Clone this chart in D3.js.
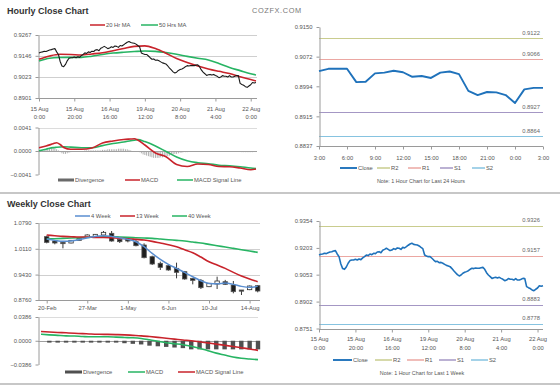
<!DOCTYPE html>
<html>
<head>
<meta charset="utf-8">
<script src="https://cdn.jsdelivr.net/npm/d3@7"></script>
<style>
body{margin:0;background:#fff}
svg{display:block;font-family:"Liberation Sans",Arial,sans-serif}
</style>
</head>
<body>
<svg id="c" width="560" height="386"></svg>
<script>
// ---- hourly data: 15 Aug 0:00 -> 22 Aug 3:00, 124 trading hours ----
const hourClose = [
 0.9163,0.9167,0.9169,0.9173,0.9171,0.9176,0.9180,0.9182,0.9186,0.9188,
 0.9169,0.9154,0.9113,0.9087,0.9083,0.9096,0.9117,0.9132,0.9135,0.9135,
 0.9139,0.9135,0.9141,0.9137,0.9147,0.9154,0.9163,0.9160,0.9169,0.9165,
 0.9173,0.9171,0.9180,0.9182,0.9176,0.9190,0.9195,0.9201,0.9195,0.9188,
 0.9191,0.9199,0.9195,0.9203,0.9201,0.9195,0.9206,0.9203,0.9210,0.9218,
 0.9225,0.9229,0.9223,0.9221,0.9219,0.9214,0.9206,0.9199,0.9163,0.9158,
 0.9154,0.9154,0.9145,0.9135,0.9126,0.9128,0.9120,0.9122,0.9117,0.9111,
 0.9105,0.9102,0.9098,0.9087,0.9075,0.9064,0.9053,0.9046,0.9051,0.9061,
 0.9066,0.9070,0.9075,0.9083,0.9089,0.9087,0.9090,0.9089,0.9089,0.9092,
 0.9094,0.9083,0.9064,0.9051,0.9042,0.9032,0.9036,0.9038,0.9034,0.9038,
 0.9032,0.9027,0.9019,0.9023,0.9031,0.9027,0.9027,0.9023,0.9031,0.9023,
 0.9023,0.9027,0.9032,0.9031,0.8986,0.8980,0.8975,0.8967,0.8963,0.8971,
 0.8978,0.8991,0.8988,0.8991];

const maHours = [0,6,12,18,24,30,36,42,48,54,60,66,72,78,84,90,96,102,108,114,120,123];
const ma20 = [0.9126,0.9145,0.9155,0.9154,0.9151,0.9157,0.9164,0.9176,0.9189,0.9201,0.9204,
              0.9188,0.9161,0.9130,0.9107,0.9087,0.9070,0.9056,0.9043,0.9025,0.9008,0.9000];
const ma50 = [0.9116,0.9132,0.9136,0.9137,0.9137,0.9144,0.9154,0.9162,0.9167,0.9171,0.9174,
              0.9172,0.9165,0.9155,0.9143,0.9132,0.9122,0.9101,0.9078,0.9060,0.9042,0.9035];

const macdHours = [0,4,8,10,12,14,18,24,30,36,42,48,52,54,56,60,66,72,78,84,90,96,102,108,114,120,123];
const macdH = [0.00058,0.00087,0.00126,0.00145,0.00113,0.00061,0.00030,0.00030,0.00052,0.00140,
               0.00175,0.00201,0.00209,0.00213,0.00192,0.00105,-0.00035,-0.00099,-0.00236,-0.00270,
               -0.00227,-0.00236,-0.00270,-0.00274,-0.00297,-0.00326,-0.00314];
const signalH = [0.00005,0.00031,0.00059,0.00065,0.00070,0.00073,0.00068,0.00058,0.00058,0.00094,
                 0.00131,0.00157,0.00178,0.00188,0.00199,0.00164,0.00087,-0.00009,-0.00105,-0.00171,
                 -0.00204,-0.00222,-0.00248,-0.00257,-0.00274,-0.00297,-0.00305];
const divH = [
 0.00005,0.00005,0.0001,0.0001,0.0002,0.0003,0.0004,0.0005,0.0005,0.0004,
 0.0003,0.0001,-0.0002,-0.0004,-0.0005,-0.0005,-0.0004,-0.0003,-0.0002,-0.0001,
 -0.0001,0,0,0,0,0,0.0001,0.0001,0.0001,0.0001,
 0.0001,0.0001,0.0001,0.0001,0.0001,0.0001,0.0002,0.0002,0.0002,0.0003,
 0.0003,0.0003,0.0003,0.0003,0.0003,0.0004,0.0004,0.0004,0.0004,0.0003,
 0.0003,0.0002,0.0001,0,0,-0.0001,-0.0001,-0.0002,-0.0004,-0.0006,
 -0.0007,-0.0008,-0.0009,-0.0010,-0.0011,-0.0012,-0.0012,-0.0012,-0.0012,-0.0011,
 -0.0011,-0.0010,-0.0010,-0.0009,-0.0008,-0.0007,-0.0006,-0.0005,-0.0005,-0.0004,
 -0.0003,-0.0003,-0.0002,-0.0002,-0.0002,-0.0001,-0.0001,-0.0001,-0.0001,0,
 0,0,-0.0001,-0.0001,-0.0001,-0.0001,-0.0001,-0.0001,-0.0001,-0.0001,
 -0.0001,-0.0001,-0.0001,-0.0001,-0.0001,-0.0001,-0.0001,-0.0001,-0.0001,-0.0001,
 -0.0001,-0.0001,-0.0001,-0.0001,-0.0001,-0.0002,-0.0002,-0.0002,-0.0002,-0.0002,
 -0.0002,-0.0002,-0.0001,-0.0001];

const hourTickIdx = [0,20,40,60,80,100,120];
const hourTickDay = ["15 Aug","15 Aug","16 Aug","19 Aug","20 Aug","21 Aug","22 Aug"];
const hourTickTime = ["0:00","20:00","16:00","12:00","8:00","4:00","0:00"];

// ---- last 24 hours (3:00 -> 3:00) ----
const dayClose = [0.9034,0.9040,0.9040,0.9040,0.9005,0.9006,0.9028,0.9030,0.9035,0.9031,
                  0.9019,0.9021,0.9016,0.9030,0.9033,0.9026,0.8982,0.8971,0.8979,0.8978,
                  0.8971,0.8950,0.8986,0.8990,0.8990];
const dayTicks = [0,3,6,9,12,15,18,21,24];
const dayTickLabels = ["3:00","6:00","9:00","12:00","15:00","18:00","21:00","0:00","3:00"];
const levelNames = ["R2","R1","S1","S2"];
const dayLevels = [0.9122,0.9066,0.8927,0.8864];
const weekLevels = [0.9326,0.9157,0.8883,0.8778];

// ---- weekly candles 20-Feb -> 21-Aug ----
const wkOpen  = [1.0430,1.0315,1.0280,1.0263,1.0333,1.0403,1.0430,1.0474,1.0518,1.0359,1.0368,1.0298,1.0210,0.9902,
                 0.9727,0.9665,0.9595,0.9507,0.9331,0.9278,0.9111,0.9182,0.9243,0.9155,0.9024,0.9032,0.9138];
const wkHigh  = [1.0456,1.0342,1.0298,1.0342,1.0395,1.0491,1.0500,1.0579,1.0579,1.0403,1.0403,1.0342,1.0254,0.9929,
                 0.9771,0.9709,0.9744,0.9525,0.9331,0.9314,0.9210,0.9375,0.9290,0.9261,0.9024,0.9140,0.9155];
const wkLow   = [1.0254,1.0228,1.0122,1.0254,1.0324,1.0395,1.0420,1.0456,1.0298,1.0263,1.0280,1.0175,0.9858,0.9683,
                 0.9551,0.9533,0.9331,0.9296,0.9173,0.9050,0.9100,0.9050,0.9155,0.8936,0.8892,0.9020,0.8962];
const wkClose = [1.0280,1.0263,1.0245,1.0333,1.0386,1.0474,1.0491,1.0544,1.0315,1.0298,1.0315,1.0192,0.9876,0.9709,
                 0.9621,0.9551,0.9489,0.9314,0.9278,0.9085,0.9199,0.9261,0.9173,0.8980,0.8997,0.9129,0.8997];
const wk4  = [1.0367,1.0332,1.0306,1.0314,1.0349,1.0402,1.0437,1.0455,1.0437,1.0402,1.0358,1.0297,1.0165,0.9989,
              0.9831,0.9699,0.9594,0.9488,0.9374,0.9268,0.9198,0.9189,0.9207,0.9172,0.9119,0.9093,0.9119];
const wk13 = [1.0473,1.0455,1.0437,1.0429,1.0420,1.0420,1.0411,1.0411,1.0402,1.0385,1.0376,1.0358,1.0341,1.0306,
              1.0262,1.0218,1.0165,1.0086,1.0007,0.9892,0.9769,0.9681,0.9594,0.9488,0.9391,0.9312,0.9242];
const wk40 = [1.0367,1.0376,1.0385,1.0393,1.0402,1.0411,1.0420,1.0429,1.0429,1.0420,1.0411,1.0402,1.0393,1.0385,
              1.0367,1.0349,1.0332,1.0314,1.0288,1.0262,1.0226,1.0191,1.0156,1.0121,1.0086,1.0051,1.0016];
const wkMacd = [0.0105,0.0096,0.0088,0.0080,0.0076,0.0069,0.0064,0.0064,0.0064,0.0059,0.0053,0.0048,0.0037,0.0016,
                -0.0008,-0.0032,-0.0048,-0.0064,-0.0088,-0.0121,-0.0161,-0.0201,-0.0233,-0.0265,-0.0285,-0.0297,-0.0306];
const wkSignal = [0.0150,0.0142,0.0135,0.0129,0.0122,0.0116,0.0109,0.0105,0.0103,0.0100,0.0096,0.0088,0.0080,0.0068,
                  0.0055,0.0040,0.0027,0.0013,0.0000,-0.0016,-0.0035,-0.0055,-0.0074,-0.0093,-0.0113,-0.0133,-0.0156];
const wkDiv = [0,-0.003,-0.003,-0.003,-0.003,-0.003,-0.003,-0.003,-0.003,-0.003,-0.004,-0.005,-0.006,-0.008,
               -0.009,-0.010,-0.011,-0.012,-0.014,-0.014,-0.014,-0.014,-0.014,-0.014,-0.014,-0.014,-0.014];
const wkTickIdx = [0,5,10,15,20,25];
const wkTickLabels = ["20-Feb","27-Mar","1-May","6-Jun","10-Jul","14-Aug"];

const RED = '#c8232b', GREEN = '#27b463', BLUE4 = '#5a8ed0', CLOSE = '#1f72bb';
const levelColors = ['#c9cc8e','#eba7a2','#a497c4','#86c3e0'];
const FS = 5.8;

const svg = d3.select('#c');
svg.append('rect').attr('width',560).attr('height',386).attr('fill','#fff');

function txt(x, y, s, opt) {
  opt = opt || {};
  return svg.append('text').attr('x', x).attr('y', y).text(s)
    .attr('fill', opt.fill || '#555').style('font-size', (opt.size || FS) + 'px')
    .attr('text-anchor', opt.anchor || 'start').attr('font-weight', opt.weight || null);
}
function styleAxis(g) {
  g.attr('font-size', null).attr('font-family', null);
  g.selectAll('line').attr('stroke', '#9a9a9a');
  g.select('.domain').attr('stroke', '#9a9a9a');
  g.selectAll('text').attr('fill', '#555').style('font-size', FS + 'px');
}
function yAxis(x0, y, vals) {
  const g = svg.append('g').attr('transform', `translate(${x0 + 0.5},0)`)
    .call(d3.axisLeft(y).tickValues(vals).tickFormat(d3.format('.4f')).tickSize(3).tickSizeOuter(0).tickPadding(4));
  styleAxis(g);
  return g;
}
function xAxis(y0, x, x0, x1, vals, fmt) {
  const g = svg.append('g').attr('transform', `translate(0,${Math.round(y0) + 0.5})`)
    .call(d3.axisBottom(x).tickValues(vals).tickFormat(fmt || (() => '')).tickSize(3).tickSizeOuter(0));
  g.select('.domain').remove();
  g.append('line').attr('x1', x0).attr('x2', x1).attr('stroke', '#9a9a9a');
  styleAxis(g);
  return g;
}
function twoLine(g, days, times, y1, y2) {
  g.selectAll('.tick text').each(function (d, i) {
    const t = d3.select(this).text('').attr('y', 0).attr('dy', null);
    t.append('tspan').attr('x', 0).attr('y', y1).text(days[i]);
    t.append('tspan').attr('x', 0).attr('y', y2).text(times[i]);
  });
}
function grid(x0, x1, y, vals, col) {
  svg.append('g').selectAll('line').data(vals).join('line')
    .attr('x1', x0).attr('x2', x1)
    .attr('y1', d => Math.round(y(d)) + 0.5).attr('y2', d => Math.round(y(d)) + 0.5)
    .attr('stroke', col);
}
function path(xs, ys, x, y, col, w, curve) {
  const line = d3.line().x((d, i) => x(xs[i])).y(d => y(d));
  if (curve) line.curve(curve);
  svg.append('path').datum(ys).attr('d', line).attr('fill', 'none')
    .attr('stroke', col).attr('stroke-width', w).attr('stroke-linejoin', 'round');
}
function legend(items, y) {
  items.forEach(it => {
    if (it.bar) svg.append('rect').attr('x', it.x).attr('y', y - 1.5).attr('width', it.w).attr('height', 3).attr('fill', it.color);
    else svg.append('line').attr('x1', it.x).attr('x2', it.x + it.w).attr('y1', y).attr('y2', y)
      .attr('stroke', it.color).attr('stroke-width', it.sw || 1.5);
    txt(it.x + it.w + 1, y + 2, it.label);
  });
}
const idx = n => d3.range(n);

// ---------- header ----------
txt(7, 13.5, 'Hourly Close Chart', { size: 9, weight: 'bold', fill: '#333' });
txt(252, 13, 'COZFX.COM', { size: 7.4, fill: '#777' }).style('letter-spacing', '0.6px');
txt(7, 207, 'Weekly Close Chart', { size: 9, weight: 'bold', fill: '#333' });
svg.append('line').attr('x1', 0).attr('x2', 560).attr('y1', 193).attr('y2', 193).attr('stroke', '#b5b5b5').attr('stroke-width', 1.5);
svg.append('line').attr('x1', 0).attr('x2', 560).attr('y1', 384).attr('y2', 384).attr('stroke', '#b5b5b5').attr('stroke-width', 1.5);

// ---------- hourly close (top left) ----------
const xH = d3.scaleLinear().domain([0, 123]).range([39, 256]);
const yH = d3.scaleLinear().domain([0.8901, 0.9267]).range([98, 35]);
grid(38, 257, yH, [0.9267, 0.9146, 0.9023], '#cfcfcf');
yAxis(38, yH, [0.9267, 0.9146, 0.9023, 0.8901]);
twoLine(xAxis(98, xH, 38, 257, hourTickIdx), hourTickDay, hourTickTime, 12.3, 20);
path(maHours, ma50, xH, yH, GREEN, 1.6, d3.curveMonotoneX);
path(maHours, ma20, xH, yH, RED, 1.6, d3.curveMonotoneX);
path(idx(hourClose.length), hourClose, xH, yH, '#1a1a1a', 1.1);
legend([{ x: 90, w: 15, color: RED, label: '20 Hr MA' },
        { x: 141, w: 17, color: GREEN, label: '50 Hrs MA' }], 25);

// ---------- hourly MACD ----------
const yHM = d3.scaleLinear().domain([-0.0041, 0.0041]).range([174.5, 127.5]);
grid(38, 257, yHM, [0.0041], '#dcdcdc');
svg.append('g').selectAll('rect').data(divH).join('rect')
  .attr('x', (d, i) => xH(i) - 0.45).attr('width', 0.9)
  .attr('y', d => Math.min(yHM(d), yHM(0))).attr('height', d => Math.abs(yHM(d) - yHM(0)))
  .attr('fill', '#a8a8a8');
grid(38, 257, yHM, [0], '#a0a0a0');
yAxis(38, yHM, [0.0041, 0, -0.0041]);
path(macdHours, signalH, xH, yHM, GREEN, 1.6, d3.curveMonotoneX);
path(macdHours, macdH, xH, yHM, RED, 1.6, d3.curveMonotoneX);
legend([{ x: 58, w: 16, color: '#6a6a6a', bar: true, label: 'Divergence' },
        { x: 125, w: 15, color: RED, label: 'MACD' },
        { x: 177, w: 16, color: GREEN, label: 'MACD Signal Line' }], 180);

// ---------- last 24 hours (top right) ----------
const xD = d3.scaleLinear().domain([0, 24]).range([319, 543]);
const yD = d3.scaleLinear().domain([0.8837, 0.9150]).range([146, 27]);
dayLevels.forEach((v, i) => {
  const yy = Math.round(yD(v)) + 0.5;
  svg.append('line').attr('x1', 319).attr('x2', 543).attr('y1', yy).attr('y2', yy).attr('stroke', levelColors[i]).attr('stroke-width', 1.2);
  txt(540, yy - 4, d3.format('.4f')(v), { anchor: 'end', fill: '#666' });
});
yAxis(319, yD, [0.9150, 0.9072, 0.8994, 0.8915, 0.8837]);
const gD = xAxis(146, xD, 319, 543, dayTicks, (d, i) => dayTickLabels[i]);
gD.selectAll('.tick text').attr('y', 9);
path(idx(dayClose.length), dayClose, xD, yD, CLOSE, 1.9);
legend([{ x: 340, w: 17, color: CLOSE, sw: 1.9, label: 'Close' },
        { x: 377, w: 13, color: levelColors[0], label: levelNames[0] },
        { x: 408, w: 13, color: levelColors[1], label: levelNames[1] },
        { x: 440, w: 13, color: levelColors[2], label: levelNames[2] },
        { x: 472, w: 13, color: levelColors[3], label: levelNames[3] }], 168);
txt(421, 183, 'Note: 1 Hour Chart for Last 24 Hours', { anchor: 'middle', size: 5.4, fill: '#555' });

// ---------- last week hourly (bottom right) ----------
const xW = d3.scaleLinear().domain([0, 123]).range([319, 543]);
const yW = d3.scaleLinear().domain([0.8751, 0.9354]).range([328.5, 221]);
weekLevels.forEach((v, i) => {
  const yy = Math.round(yW(v)) + 0.5;
  svg.append('line').attr('x1', 319).attr('x2', 543).attr('y1', yy).attr('y2', yy).attr('stroke', levelColors[i]).attr('stroke-width', 1.2);
  txt(540, yy - 5, d3.format('.4f')(v), { anchor: 'end', fill: '#666' });
});
yAxis(319, yW, [0.9354, 0.9203, 0.9053, 0.8902, 0.8751]);
twoLine(xAxis(328.5, xW, 319, 543, hourTickIdx), hourTickDay, hourTickTime, 11.5, 20.3);
path(idx(hourClose.length), hourClose, xW, yW, CLOSE, 1.6);
legend([{ x: 333, w: 19, color: CLOSE, sw: 1.9, label: 'Close' },
        { x: 375, w: 17, color: levelColors[0], label: levelNames[0] },
        { x: 407, w: 17, color: levelColors[1], label: levelNames[1] },
        { x: 439, w: 17, color: levelColors[2], label: levelNames[2] },
        { x: 471, w: 17, color: levelColors[3], label: levelNames[3] }], 360);
txt(422, 375, 'Note: 1 Hour Chart for Last 1 Week', { anchor: 'middle', size: 5.4, fill: '#555' });

// ---------- weekly candles (bottom left) ----------
const xK = d3.scaleLinear().domain([0, 26]).range([46.7, 257.7]);
const yK = d3.scaleLinear().domain([0.8760, 1.0790]).range([300, 223]);
grid(38, 260, yK, [1.0790, 1.0110, 0.9430], '#cfcfcf');
yAxis(38, yK, [1.0790, 1.0110, 0.9430, 0.8760]);
const gK = xAxis(300, xK, 38, 260, wkTickIdx, (d, i) => wkTickLabels[i]);
gK.selectAll('.tick text').attr('y', 5);
const candles = svg.append('g').selectAll('g').data(idx(wkOpen.length)).join('g');
candles.append('line').attr('x1', i => xK(i)).attr('x2', i => xK(i))
  .attr('y1', i => yK(wkHigh[i])).attr('y2', i => yK(wkLow[i])).attr('stroke', '#222').attr('stroke-width', 0.9);
candles.append('rect').attr('x', i => xK(i) - 2.2).attr('width', 4.4)
  .attr('y', i => yK(Math.max(wkOpen[i], wkClose[i])))
  .attr('height', i => Math.max(1.2, Math.abs(yK(wkOpen[i]) - yK(wkClose[i]))))
  .attr('fill', i => wkClose[i] < wkOpen[i] ? '#1e1e1e' : '#fff')
  .attr('stroke', i => wkClose[i] < wkOpen[i] ? '#555' : '#333').attr('stroke-width', 0.8);
path(idx(wk40.length), wk40, xK, yK, GREEN, 1.6, d3.curveMonotoneX);
path(idx(wk13.length), wk13, xK, yK, RED, 1.6, d3.curveMonotoneX);
path(idx(wk4.length), wk4, xK, yK, BLUE4, 1.5, d3.curveMonotoneX);
legend([{ x: 75, w: 15, color: BLUE4, label: '4 Week' },
        { x: 120, w: 15, color: RED, label: '13 Week' },
        { x: 172, w: 15, color: GREEN, label: '40 Week' }], 216);

// ---------- weekly MACD ----------
const xKM = d3.scaleLinear().domain([0, 26]).range([41, 258]);
const yKM = d3.scaleLinear().domain([-0.0386, 0.0386]).range([364.5, 317]);
grid(38, 258, yKM, [0.0386], '#dcdcdc');
grid(38, 258, yKM, [0], '#a0a0a0');
svg.append('g').selectAll('rect').data(wkDiv).join('rect')
  .attr('x', (d, i) => xKM(i) - 2.2).attr('width', 4.4)
  .attr('y', d => Math.min(yKM(d), yKM(0))).attr('height', d => Math.abs(yKM(d) - yKM(0)))
  .attr('fill', '#505050');
yAxis(38, yKM, [0.0386, 0, -0.0386]);
path(idx(wkSignal.length), wkSignal, xKM, yKM, RED, 1.6, d3.curveMonotoneX);
path(idx(wkMacd.length), wkMacd, xKM, yKM, GREEN, 1.6, d3.curveMonotoneX);
legend([{ x: 65, w: 17, color: '#505050', bar: true, label: 'Divergence' },
        { x: 128, w: 17, color: GREEN, label: 'MACD' },
        { x: 178, w: 17, color: RED, label: 'MACD Signal Line' }], 372);
</script>
</body>
</html>
